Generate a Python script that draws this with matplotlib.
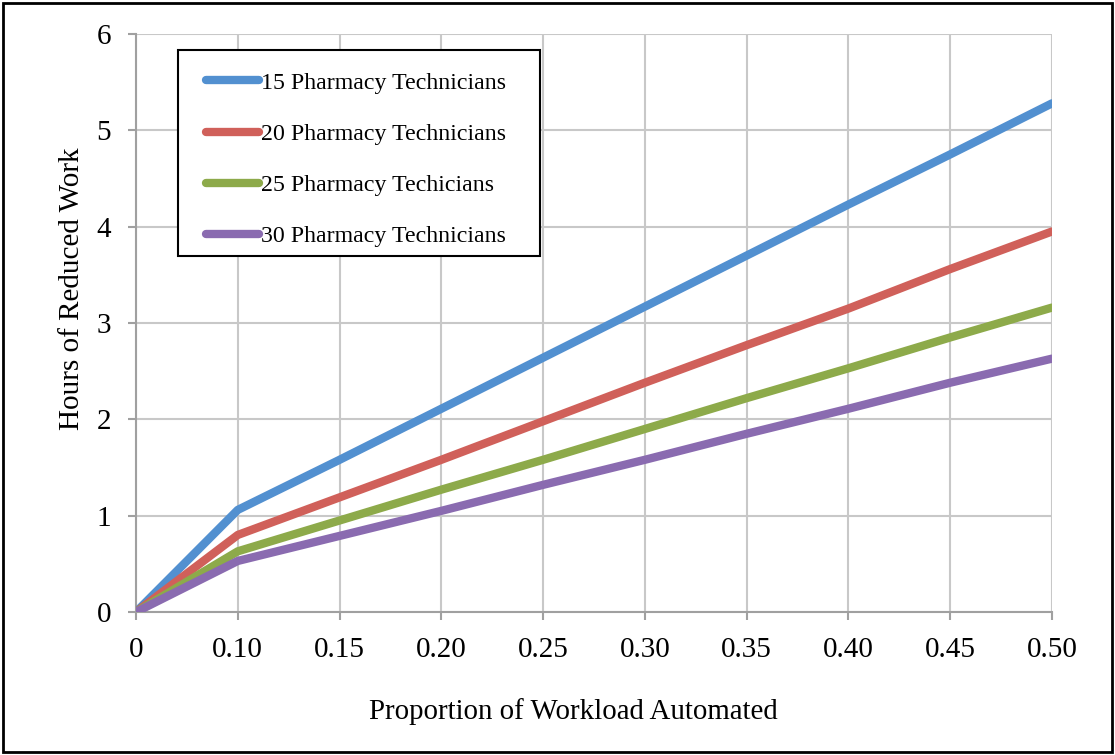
import numpy as np
import matplotlib.pyplot as plt
import matplotlib.patches as mpatches

# data
proportions = ['0', '0.10', '0.15', '0.20', '0.25', '0.30', '0.35', '0.40', '0.45', '0.50']
techs_15 = [0, 1.06, 1.58, 2.11, 2.64, 3.17, 3.70, 4.23, 4.75, 5.28]
techs_20 = [0, 0.80, 1.19, 1.58, 1.98, 2.38, 2.77, 3.15, 3.56, 3.95]
techs_25 = [0, 0.63, 0.95, 1.27, 1.58, 1.90, 2.22, 2.53, 2.85, 3.16]
techs_30 = [0, 0.53, 0.79, 1.05, 1.32, 1.58, 1.85, 2.11, 2.38, 2.63]
labels = ['15 Pharmacy Technicians', '20 Pharmacy Technicians',
          '25 Pharmacy Techicians', '30 Pharmacy Technicians']
colors = ['#5290D0', '#D0605A', '#8DAA4A', '#8A6BB0']

plt.rcParams['font.family'] = ['Liberation Serif', 'DejaVu Serif']

fig = plt.figure(figsize=(11.15, 7.55), dpi=100)
ax = fig.add_axes([0.122, 0.1894, 0.8215, 0.7656])

x = np.arange(len(proportions))
for vals, lab, col in zip([techs_15, techs_20, techs_25, techs_30], labels, colors):
    ax.plot(x, vals, color=col, lw=6, label=lab, solid_capstyle='round', zorder=3)

ax.set_xlim(0, len(proportions) - 1)
ax.set_ylim(0, 6)
ax.set_xticks(x)
ax.set_xticklabels(proportions)
ax.set_yticks(range(7))
ax.grid(True, color='#C8C8C8', lw=1.5)
ax.set_axisbelow(True)
for s in ['top', 'right']:
    ax.spines[s].set_visible(False)
for s in ['left', 'bottom']:
    ax.spines[s].set_color('#A0A0A0')
    ax.spines[s].set_linewidth(1.5)
ax.tick_params(colors='#A0A0A0', labelcolor='black', labelsize=21, length=6, width=1.5)
ax.tick_params(axis='x', pad=12)
ax.tick_params(axis='y', pad=12)

ax.set_xlabel('Proportion of Workload Automated', fontsize=20.8)
ax.xaxis.set_label_coords(0.477, -0.149)
ax.set_ylabel('Hours of Reduced Work', fontsize=21, labelpad=8)
ax.yaxis.label.set_y(0.56)

# legend frame drawn separately so the padding matches
frame = mpatches.Rectangle((0.0459, 0.616), 0.395, 0.356, transform=ax.transAxes,
                           facecolor='white', edgecolor='black', lw=1.5, zorder=4)
ax.add_patch(frame)
leg = ax.legend(loc='upper left', bbox_to_anchor=(0.0764, 0.934), fontsize=17.2,
                frameon=False, handlelength=2.2, handletextpad=0.1,
                labelspacing=1.23, borderpad=0, borderaxespad=0)
leg.set_zorder(5)

# outer border around the whole figure
fig.patches.append(mpatches.Rectangle((0.003, 0.004), 0.994, 0.992, transform=fig.transFigure,
                                      fill=False, edgecolor='black', lw=2))

fig.savefig('out.png', dpi=100)
